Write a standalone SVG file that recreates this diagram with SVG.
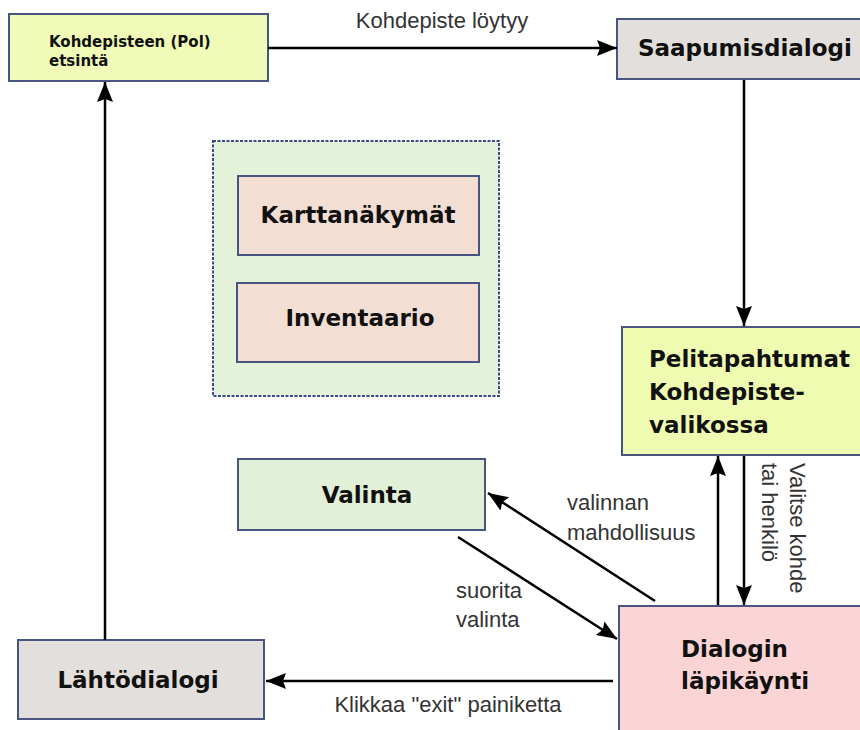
<svg xmlns="http://www.w3.org/2000/svg" width="860" height="730" viewBox="0 0 860 730">
<defs>
<marker id="arr" markerUnits="userSpaceOnUse" markerWidth="22" markerHeight="18" refX="20" refY="8" orient="auto">
<path d="M0,0 L20,8 L0,16 L3,8 z" fill="#000"/>
</marker>
<style>
.box{stroke:#4a5480;stroke-width:2}
.b{font-family:"DejaVu Sans",sans-serif;font-weight:bold;font-size:23px;fill:#111}
.s{font-family:"DejaVu Sans",sans-serif;font-weight:bold;font-size:15px;fill:#111}
.l{font-family:"Liberation Sans",Arial,sans-serif;font-size:22px;fill:#333}
.c{stroke:#000;stroke-width:2.5;fill:none;marker-end:url(#arr)}
</style>
</defs>
<rect width="860" height="730" fill="#fff"/>
<g id="kohdepisteen">
<rect class="box" x="9" y="14" width="259" height="67" fill="#f0fbb8"/>
<text class="s" x="49" y="47">Kohdepisteen (Pol)</text>
<text class="s" x="49" y="66">etsintä</text>
</g>
<g id="saapumisdialogi">
<rect class="box" x="617" y="19" width="260" height="60" fill="#e3dfdc"/>
<text class="b" x="638" y="56">Saapumisdialogi</text>
</g>
<g id="group">
<rect x="213" y="141" width="286" height="255" fill="#e4f2da" stroke="#3a4a8a" stroke-width="2" stroke-dasharray="3,1.5"/>
<g id="karttanakymat">
<rect class="box" x="238" y="176" width="241" height="79" fill="#f2ded2"/>
<text class="b" x="358" y="223" text-anchor="middle">Karttanäkymät</text>
</g>
<g id="inventaario">
<rect class="box" x="237" y="283" width="242" height="79" fill="#f2ded2"/>
<text class="b" x="360" y="326" text-anchor="middle">Inventaario</text>
</g>
</g>
<g id="pelitapahtumat">
<rect class="box" x="622" y="327" width="260" height="128" fill="#eefbb0"/>
<text class="b" x="649" y="367">Pelitapahtumat</text>
<text class="b" x="649" y="400">Kohdepiste-</text>
<text class="b" x="649" y="433">valikossa</text>
</g>
<g id="valinta">
<rect class="box" x="238" y="459" width="247" height="71" fill="#e2f0d8"/>
<text class="b" x="367" y="503" text-anchor="middle">Valinta</text>
</g>
<g id="dialogin">
<rect class="box" x="619" y="606" width="260" height="140" fill="#fbd5d5"/>
<text class="b" x="681" y="657">Dialogin</text>
<text class="b" x="681" y="689">läpikäynti</text>
</g>
<g id="lahtodialogi">
<rect class="box" x="18" y="640" width="246" height="79" fill="#e3dfdc"/>
<text class="b" x="138" y="688" text-anchor="middle">Lähtödialogi</text>
</g>
<g id="connectors">
<line class="c" x1="268" y1="48" x2="617" y2="48"/>
<line class="c" x1="744" y1="80" x2="744" y2="326"/>
<line class="c" x1="718" y1="605" x2="718" y2="456"/>
<line class="c" x1="744" y1="456" x2="744" y2="605"/>
<line class="c" x1="655" y1="601" x2="488" y2="493"/>
<line class="c" x1="458" y1="537" x2="617" y2="639"/>
<line class="c" x1="613" y1="681" x2="266" y2="681"/>
<line class="c" x1="105" y1="640" x2="105" y2="82"/>
<text class="l" x="442" y="28" text-anchor="middle">Kohdepiste löytyy</text>
<text class="l" x="567" y="510">valinnan</text>
<text class="l" x="567" y="540">mahdollisuus</text>
<text class="l" x="456" y="598">suorita</text>
<text class="l" x="456" y="627">valinta</text>
<text class="l" x="448" y="712" text-anchor="middle">Klikkaa "exit" painiketta</text>
<text class="l" transform="translate(790,463) rotate(90)">Valitse kohde</text>
<text class="l" transform="translate(762,463) rotate(90)">tai henkilö</text>
</g>
</svg>
